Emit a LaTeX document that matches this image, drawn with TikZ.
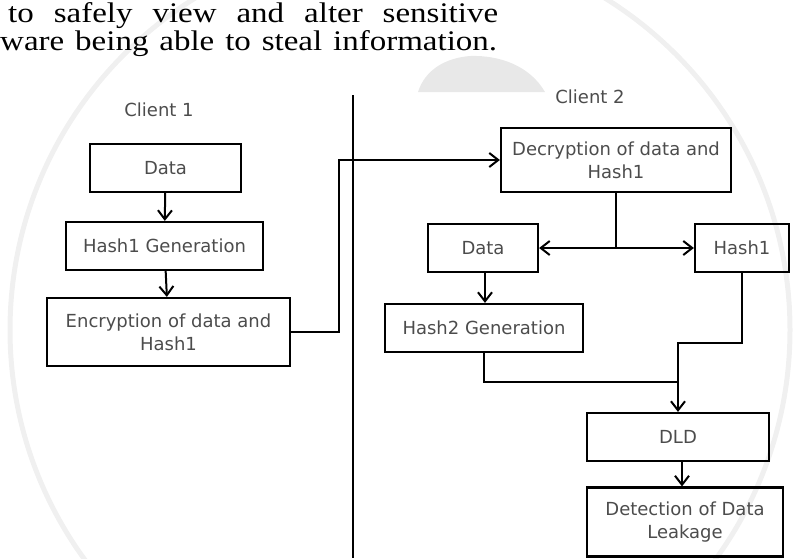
\documentclass[tikz,border=0pt]{standalone}
\usepackage{fontspec}
\setmainfont{Liberation Serif}
\newfontfamily\boxfont{DejaVu Sans}
\usetikzlibrary{arrows.meta}

\begin{document}
\begin{tikzpicture}[
  x=1pt, y=-1pt,
  box/.style={draw, line width=2.2pt, inner sep=0pt, align=center,
    font=\boxfont\fontsize{18}{23}\selectfont, text=black!70},
  flow/.style={line width=2pt, -{Straight Barb[length=9pt,width=14pt,line width=2pt]}},
  link/.style={line width=2pt},
  heading/.style={font=\boxfont\fontsize{18}{22}\selectfont, text=black!70},
  body/.style={font=\fontsize{33}{26}\selectfont, anchor=base west, inner sep=0pt}
  ]
  \useasboundingbox (0,0) rectangle (795,558);
  \clip (0,0) rectangle (795,558);

  % faint watermark behind the page
  \draw[gray!12, line width=5pt] (400,330) circle[radius=390];
  \fill[gray!18] (418,92) .. controls (425,70) and (445,58) .. (470,56)
    .. controls (500,55) and (530,66) .. (545,92) -- cycle;

  % end of the paragraph above the figure
  \node[body] (line1) at (8,22) {\scalebox{1}[0.86]{\makebox[490pt][s]{to safely view and alter sensitive}}};
  \node[body] (line2) at (0,50) {\scalebox{1}[0.86]{\makebox[497pt][s]{ware being able to steal information.}}};

  % client 1
  \node[heading] (client1) at (159,110) {Client 1};
  \node[box, minimum width=151pt, minimum height=48pt] (data1) at (165.5,168) {Data};
  \node[box, minimum width=197pt, minimum height=48pt] (hash1gen) at (164.5,246) {Hash1 Generation};
  \node[box, minimum width=243pt, minimum height=68pt] (encrypt) at (168.5,332) {Encryption of data and\\Hash1};

  % divider
  \coordinate (divtop) at (353,95);
  \coordinate (divbot) at (353,558);
  \draw[link] (divtop) -- (divbot);

  % client 2
  \node[heading] (client2) at (590,97) {Client 2};
  \node[box, minimum width=230pt, minimum height=64pt] (decrypt) at (616,160) {Decryption of data and\\Hash1};
  \node[box, minimum width=110pt, minimum height=48pt] (data2) at (483,248) {Data};
  \node[box, minimum width=94pt, minimum height=48pt] (hash1) at (742,248) {Hash1};
  \node[box, minimum width=198pt, minimum height=48pt] (hash2gen) at (484,328) {Hash2 Generation};
  \node[box, minimum width=182pt, minimum height=48pt] (dld) at (678,437) {DLD};
  \node[box, minimum width=196pt, minimum height=69pt] (detect) at (685,522) {Detection of Data\\Leakage};

  \draw[flow] (data1) -- (hash1gen);
  \draw[flow] (hash1gen) -- (encrypt);

  \coordinate (relay) at (339,160);
  \draw[flow] (encrypt.east) -| (relay) -- (decrypt.west);

  \coordinate (split) at (decrypt.south |- data2.east);
  \draw[link] (decrypt.south) -- (split);
  \draw[flow] (split) -- (data2.east);
  \draw[flow] (split) -- (hash1.west);
  \draw[flow] (data2.south -| 485,0) -- (hash2gen.north -| 485,0);

  \coordinate (bend) at (678,343);
  \coordinate (merge) at (678,382);
  \draw[link] (hash2gen.south) |- (merge);
  \draw[flow] (hash1.south) |- (bend) -- (dld.north);
  \draw[flow] ([xshift=4pt]dld.south) -- ([xshift=4pt]dld.south |- detect.north);
\end{tikzpicture}
\end{document}
